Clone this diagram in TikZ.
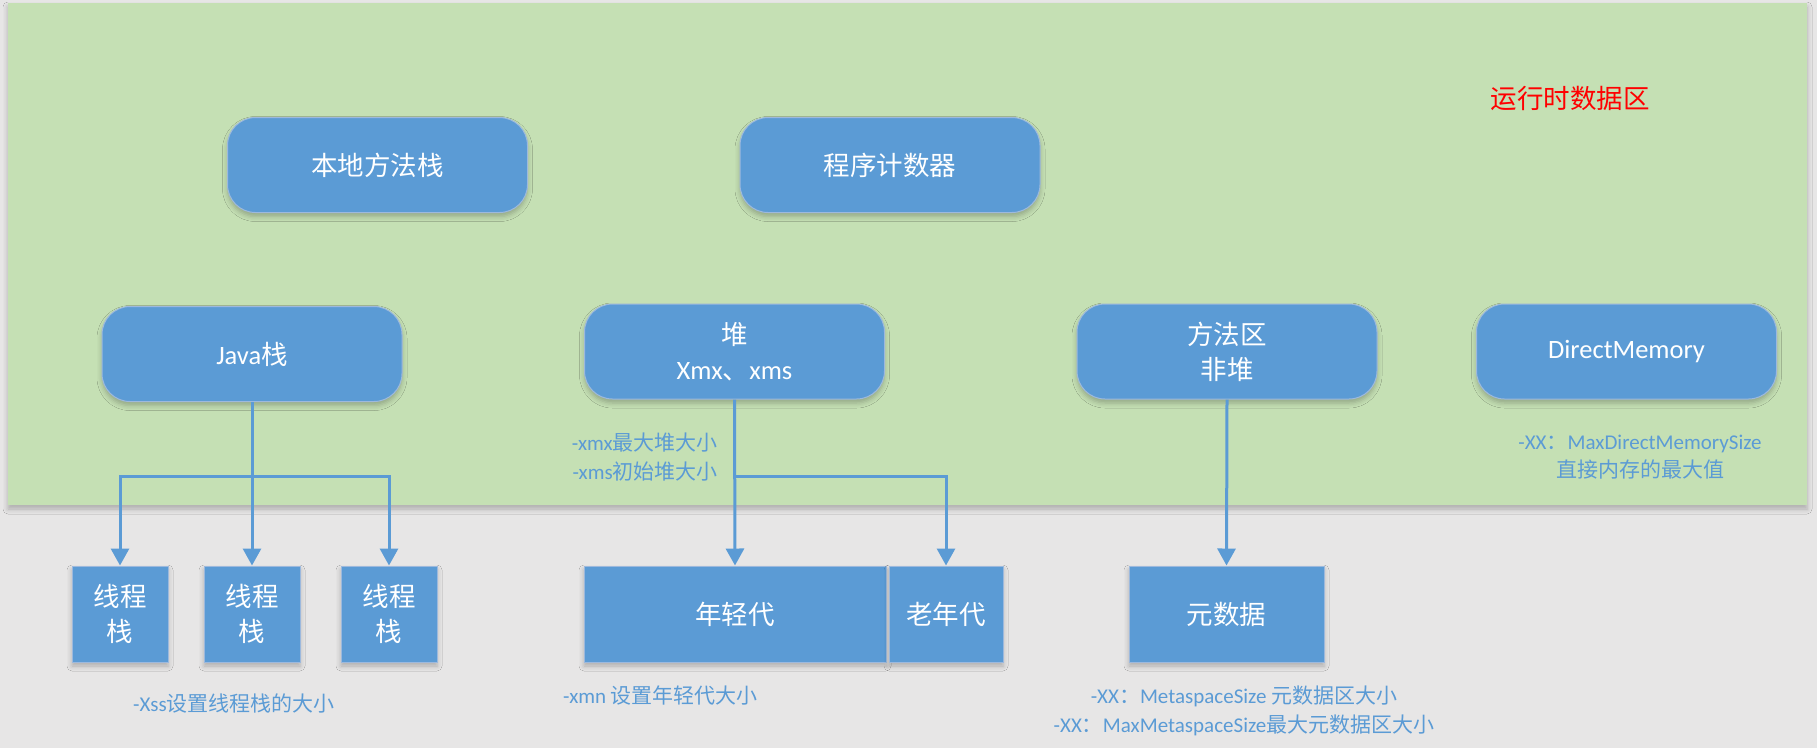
\documentclass[tikz,border=0pt]{standalone}
\usepackage{fontspec}
\setmainfont{Carlito}
\newfontfamily\cjk{Noto Sans CJK SC}
\usetikzlibrary{arrows.meta,shadows.blur}

\definecolor{pagebg}{HTML}{E7E6E6}
\definecolor{areagreen}{HTML}{C5E0B4}
\definecolor{boxblue}{HTML}{5B9BD5}
\definecolor{boxedge}{HTML}{9DB9DD}

\tikzset{
  softshadow/.style={blur shadow={shadow xshift=0pt, shadow yshift=-4pt,
      shadow blur radius=5pt, shadow opacity=25}},
  box/.style={fill=boxblue, draw=boxedge, line width=1pt, text=white,
      font=\fontsize{26.5}{35}\selectfont, align=center, inner sep=0pt, softshadow},
  roundbox/.style={box, rounded corners=28pt, minimum width=300pt, minimum height=95pt},
  sqbox/.style={box, minimum height=96pt},
  note/.style={text=boxblue, font=\fontsize{21}{28.5}\selectfont, align=center, inner sep=0pt},
  link/.style={draw=boxblue, line width=3pt, -{Triangle[width=18pt,length=17pt]}},
}

\begin{document}
\begin{tikzpicture}[x=1pt, y=-1pt]
  % page and runtime data area
  \fill[pagebg] (0,0) rectangle (1817,748);
  \useasboundingbox (0,0) rectangle (1817,748);
  \path[fill=areagreen, softshadow] (8,3) rectangle (1807,505);

  \node[text=red, font=\fontsize{26.5}{30}\selectfont\cjk, inner sep=0pt] (title) at (1570,98) {运行时数据区};

  % top row
  \node[roundbox] (native) at (377.5,165) {\cjk 本地方法栈};
  \node[roundbox] (pc) at (890,165) {\cjk 程序计数器};

  % second row
  \node[roundbox] (jstack) at (252,354) {Java{\cjk 栈}};
  \node[roundbox] (heap) at (734.5,351.5) {{\cjk 堆}\\Xmx{\cjk 、}xms};
  \node[roundbox] (method) at (1227,351.5) {{\cjk 方法区}\\{\cjk 非堆}};
  \node[roundbox] (direct) at (1626.5,351.5) {DirectMemory};

  % thread stacks
  \node[sqbox, minimum width=96pt] (t1) at (120,614) {{\cjk 线程}\\{\cjk 栈}};
  \node[sqbox, minimum width=96pt] (t2) at (252,614) {{\cjk 线程}\\{\cjk 栈}};
  \node[sqbox, minimum width=96pt] (t3) at (389,614) {{\cjk 线程}\\{\cjk 栈}};

  % heap generations
  \node[sqbox, minimum width=302pt] (young) at (735,614) {\cjk 年轻代};
  \node[sqbox, minimum width=114pt] (old) at (946,614) {\cjk 老年代};

  % metadata
  \node[sqbox, minimum width=195pt] (meta) at (1226.5,614) {\cjk 元数据};

  % connectors
  \coordinate (jfork) at (252,476);
  \draw[link] (jstack.south) -- (t2.north);
  \draw[link] (jfork) -| (t1.north);
  \draw[link] (jfork) -| (t3.north);

  \coordinate (hfork) at (734.5,476);
  \draw[link] (heap.south) -- (young.north);
  \draw[link] (hfork) -| (old.north);

  \draw[link] (method.south) -- (meta.north);

  % option notes
  \node[note, anchor=east] (xmx) at (718,443) {-xmx{\cjk 最大堆大小}};
  \node[note, anchor=east] (xms) at (718,472) {-xms{\cjk 初始堆大小}};
  \node[note] (xss) at (234,703) {-Xss{\cjk 设置线程栈的大小}};
  \node[note, anchor=west] (xmn) at (563,695) {-xmn {\cjk 设置年轻代大小}};
  \node[note] (metanote) at (1244,711) {-XX{\cjk ：}MetaspaceSize {\cjk 元数据区大小}\\-XX{\cjk ：}MaxMetaspaceSize{\cjk 最大元数据区大小}};
  \node[note] (directnote) at (1640,457) {-XX{\cjk ：}MaxDirectMemorySize\\{\cjk 直接内存的最大值}};
\end{tikzpicture}
\end{document}
